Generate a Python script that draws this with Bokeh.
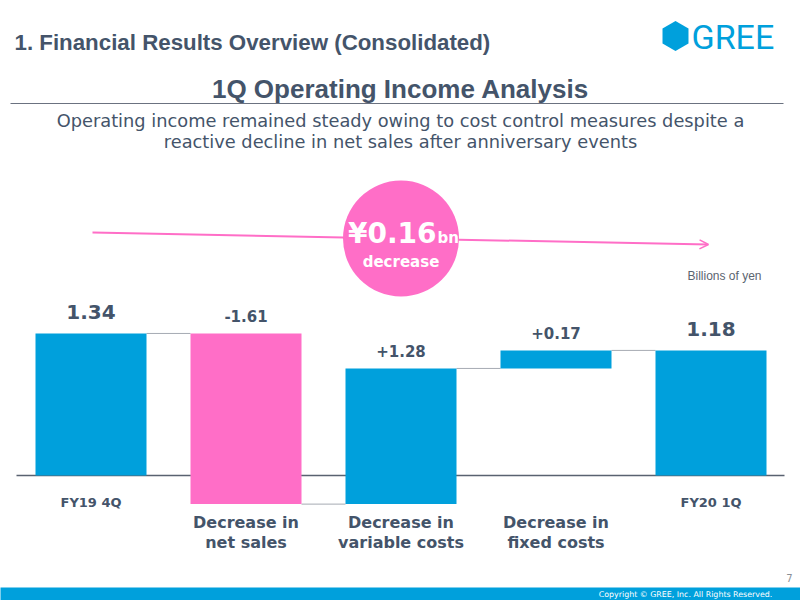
from bokeh.plotting import figure
from bokeh.models import Range1d, Label, Arrow, OpenHead, ColumnDataSource
from bokeh.core.properties import value
from bokeh.embed import file_html
from bokeh.resources import INLINE

# ---- data (billions of yen) ----
categories = ["FY19 4Q", "Decrease in\nnet sales", "Decrease in\nvariable costs",
              "Decrease in\nfixed costs", "FY20 1Q"]
amounts = [1.34, -1.61, 1.28, 0.17, 1.18]
kinds = ["total", "delta", "delta", "delta", "total"]
value_labels = ["1.34", "-1.61", "+1.28", "+0.17", "1.18"]

BLUE = "#00a0dc"
PINK = "#ff6ec7"
TEXT = "#44546a"

# ---- page geometry helpers: page pixels -> data coordinates ----
X0, PX_PER_CAT = 90.5, 155.0
BASE_Y, PX_PER_BN = 475.0, 106.0


def sx(px):
    return (px - X0) / PX_PER_CAT


def sy(py):
    return (BASE_Y - py) / PX_PER_BN


p = figure(width=800, height=600, x_range=Range1d(sx(0), sx(800)),
           y_range=Range1d(sy(600), sy(0)), toolbar_location=None,
           output_backend="svg", min_border=0,
           x_axis_location=None, y_axis_location=None)
p.xgrid.visible = False
p.ygrid.visible = False
p.outline_line_color = None
p.background_fill_color = "white"
p.border_fill_color = "white"

# ---- waterfall geometry ----
xs = list(range(len(categories)))
bottoms, tops, colors, levels = [], [], [], []
running = 0.0
for amt, kind in zip(amounts, kinds):
    if kind == "total":
        b, t = 0.0, amt
        running = amt
    else:
        b, t = running, running + amt
        running += amt
    bottoms.append(b)
    tops.append(t)
    levels.append(running)
    colors.append(PINK if (kind == "delta" and amt < 0) else BLUE)

bar_w = 111 / PX_PER_CAT
label_y = [max(b, t) for b, t in zip(bottoms, tops)]
label_size = ["20px" if k == "total" else "15px" for k in kinds]
label_off = [-21 if k == "total" else -17 for k in kinds]

src = ColumnDataSource(dict(x=xs, bottom=bottoms, top=tops, color=colors,
                            ly=label_y, lab=value_labels, lsize=label_size,
                            loff=label_off))

# baseline
p.segment(x0=[sx(16)], y0=[0], x1=[sx(784)], y1=[0], line_color="#596270", line_width=1.5)

# connectors between consecutive bars
cx0 = [x + bar_w / 2 for x in xs[:-1]]
cx1 = [x - bar_w / 2 for x in xs[1:]]
p.segment(x0=cx0, y0=levels[:-1], x1=cx1, y1=levels[:-1],
          line_color="#a6abb3", line_width=1)

p.vbar(x="x", bottom="bottom", top="top", width=bar_w, fill_color="color",
       line_color=None, source=src)

p.text(x="x", y="ly", text="lab", text_font=value("DejaVu Sans"),
       text_font_style="bold", text_font_size="lsize", text_color=TEXT,
       text_align="center", text_baseline="middle", y_offset="loff", source=src)

# category labels
tot_x = [x for x, k in zip(xs, kinds) if k == "total"]
tot_t = [c for c, k in zip(categories, kinds) if k == "total"]
del_x = [x for x, k in zip(xs, kinds) if k == "delta"]
del_t = [c for c, k in zip(categories, kinds) if k == "delta"]
p.text(x=tot_x, y=[0] * len(tot_x), text=tot_t, text_font=value("DejaVu Sans"),
       text_font_style="bold", text_font_size="13px", text_color=TEXT,
       text_align="center", text_baseline="middle", y_offset=27)
p.text(x=del_x, y=[0] * len(del_x), text=del_t, text_font=value("DejaVu Sans"),
       text_font_style="bold", text_font_size="16px", text_color=TEXT,
       text_align="center", text_baseline="top", y_offset=37,
       text_line_height=1.1)

# ---- change callout: arrow and circle ----
p.add_layout(Arrow(x_start=sx(92), y_start=sy(232), x_end=sx(708), y_end=sy(244),
                   line_color=PINK, line_width=2,
                   end=OpenHead(size=9, line_color=PINK, line_width=1.5)))
p.scatter(x=[sx(400.5)], y=[sy(238)], size=116, marker="circle",
          fill_color=PINK, line_color=None)
p.add_layout(Label(x=sx(436), y=sy(233), text="¥0.16", text_font="DejaVu Sans",
                   text_font_style="bold", text_font_size="28px", text_color="white",
                   text_align="right", text_baseline="middle"))
p.add_layout(Label(x=sx(437), y=sy(237), text="bn", text_font="DejaVu Sans",
                   text_font_style="bold", text_font_size="15px", text_color="white",
                   text_align="left", text_baseline="middle"))
p.add_layout(Label(x=sx(400.5), y=sy(261), text="decrease", text_font="DejaVu Sans",
                   text_font_style="bold", text_font_size="15px", text_color="white",
                   text_align="center", text_baseline="middle"))

p.add_layout(Label(x=sx(724), y=sy(275), text="Billions of yen",
                   text_font="Liberation Sans", text_font_size="12px",
                   text_color="#5b6470", text_align="center", text_baseline="middle"))

# ---- slide header ----
p.add_layout(Label(x=sx(14), y=sy(42), text="1. Financial Results Overview (Consolidated)",
                   text_font="Liberation Sans", text_font_style="bold",
                   text_font_size="22.3px", text_color=TEXT, text_baseline="middle"))

hx, hy, hr = 675.0, 35.5, 15.0
hex_px = [(hx, hy - hr), (hx + hr * 0.866, hy - hr / 2), (hx + hr * 0.866, hy + hr / 2),
          (hx, hy + hr), (hx - hr * 0.866, hy + hr / 2), (hx - hr * 0.866, hy - hr / 2)]
p.patch(x=[sx(a) for a, _ in hex_px], y=[sy(b) for _, b in hex_px],
        fill_color=BLUE, line_color=None)
p.add_layout(Label(x=sx(691), y=sy(36), text="GREE", text_font="Roboto",
                   text_font_size="34px", text_color=BLUE, text_baseline="middle"))

p.add_layout(Label(x=sx(400), y=sy(88), text="1Q Operating Income Analysis",
                   text_font="Liberation Sans", text_font_style="bold",
                   text_font_size="26px", text_color=TEXT, text_align="center",
                   text_baseline="middle"))
p.segment(x0=[sx(10)], y0=[sy(103)], x1=[sx(783)], y1=[sy(103)],
          line_color="#6b7280", line_width=1)

p.add_layout(Label(x=sx(400), y=sy(120),
                   text="Operating income remained steady owing to cost control measures despite a",
                   text_font="DejaVu Sans", text_font_size="17.8px", text_color=TEXT,
                   text_align="center", text_baseline="middle"))
p.add_layout(Label(x=sx(400), y=sy(141),
                   text="reactive decline in net sales after anniversary events",
                   text_font="DejaVu Sans", text_font_size="17.8px", text_color=TEXT,
                   text_align="center", text_baseline="middle"))

# ---- footer ----
p.quad(left=[sx(-5)], right=[sx(805)], top=[sy(587)], bottom=[sy(605)],
       fill_color=BLUE, line_color=None)
p.add_layout(Label(x=sx(685), y=sy(594), text="Copyright © GREE, Inc. All Rights Reserved.",
                   text_font="DejaVu Sans", text_font_size="7.9px", text_color="white",
                   text_align="center", text_baseline="middle"))
p.add_layout(Label(x=sx(789), y=sy(577), text="7", text_font="DejaVu Sans",
                   text_font_size="10px", text_color="#8a8f96",
                   text_align="center", text_baseline="middle"))

open("out.html", "w").write(file_html(p, INLINE))
